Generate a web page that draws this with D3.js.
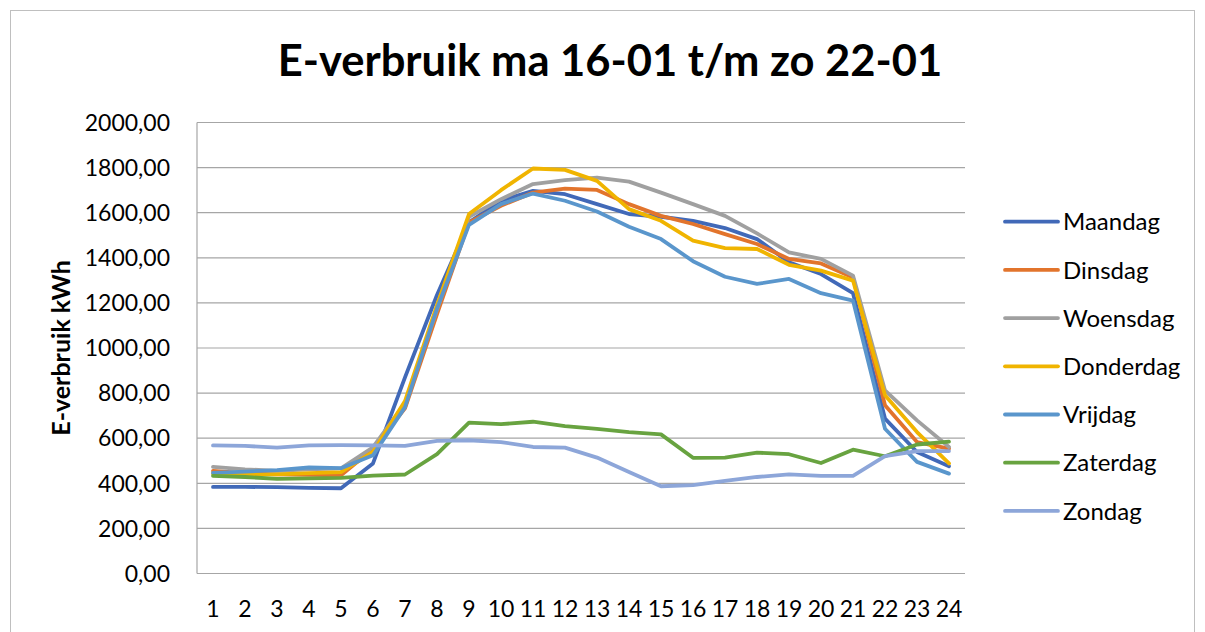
<!DOCTYPE html>
<html>
<head>
<meta charset="utf-8">
<script src="https://cdn.jsdelivr.net/npm/d3@7"></script>
<style>
  html, body { margin: 0; padding: 0; background: #fff; }
  svg { display: block; font-family: Lato, "Open Sans", sans-serif; }
</style>
</head>
<body>
<svg id="chart" width="1205" height="632"></svg>
<script>
// E-verbruik per uur, ma 16-01 t/m zo 22-01

const hours = d3.range(1, 25);
const yTicks = [0, 200, 400, 600, 800, 1000, 1200, 1400, 1600, 1800, 2000];

const days   = ['Maandag', 'Dinsdag', 'Woensdag', 'Donderdag', 'Vrijdag', 'Zaterdag', 'Zondag'];
const colors = ['#4169B8', '#E2742C', '#A0A0A0', '#F0B400', '#5A96CC', '#68A340', '#8DA6D9'];

const maandag   = [384, 384, 383, 380, 378, 488, 870, 1235, 1557, 1653, 1697, 1682, 1638, 1594, 1582, 1564, 1532, 1483, 1380, 1328, 1243, 687, 539, 476];
const dinsdag   = [455, 445, 440, 437, 435, 552, 732, 1150, 1557, 1631, 1689, 1707, 1701, 1638, 1586, 1550, 1505, 1461, 1395, 1375, 1313, 746, 583, 554];
const woensdag  = [473, 462, 455, 462, 466, 560, 755, 1170, 1582, 1660, 1727, 1744, 1756, 1738, 1689, 1638, 1586, 1508, 1424, 1395, 1321, 812, 679, 561];
const donderdag = [443, 438, 440, 445, 450, 539, 765, 1190, 1594, 1700, 1796, 1790, 1741, 1616, 1564, 1476, 1443, 1439, 1369, 1343, 1299, 790, 627, 488];
const vrijdag   = [446, 452, 458, 470, 467, 524, 738, 1175, 1546, 1638, 1685, 1653, 1605, 1538, 1483, 1385, 1316, 1284, 1306, 1243, 1210, 642, 495, 443];
const zaterdag  = [433, 428, 420, 422, 424, 434, 439, 529, 669, 662, 673, 654, 641, 627, 617, 513, 514, 536, 529, 490, 549, 520, 572, 585];
const zondag    = [568, 566, 558, 568, 569, 568, 566, 588, 591, 583, 561, 558, 514, 450, 387, 392, 411, 428, 440, 433, 433, 520, 543, 543];

const series = [maandag, dinsdag, woensdag, donderdag, vrijdag, zaterdag, zondag];

// ── Layout ────────────────────────────────────────────────────────────────────

const W = 1205, H = 632;
const plot = { left: 197, right: 965, top: 122.5, bottom: 573.5 };

const svg = d3.select('#chart');

// outer chart border
svg.append('rect')
  .attr('x', 10.5).attr('y', 10.5)
  .attr('width', W - 21).attr('height', H)
  .attr('fill', '#fff')
  .attr('stroke', '#bfbfbf').attr('stroke-width', 1);

svg.append('text')
  .attr('x', 610).attr('y', 76)
  .attr('text-anchor', 'middle')
  .attr('font-size', 43.5).attr('font-weight', 700)
  .attr('fill', '#000')
  .text('E-verbruik ma 16-01 t/m zo 22-01');

const x = d3.scaleBand().domain(hours).range([plot.left, plot.right]);
const y = d3.scaleLinear().domain([0, 2000]).range([plot.bottom, plot.top]);

// gridlines
svg.append('g')
  .selectAll('line')
  .data(yTicks)
  .enter().append('line')
  .attr('x1', plot.left).attr('x2', plot.right)
  .attr('y1', d => y(d)).attr('y2', d => y(d))
  .attr('stroke', '#a6a6a6').attr('stroke-width', 1.2);

// left axis line
svg.append('line')
  .attr('x1', plot.left).attr('x2', plot.left)
  .attr('y1', plot.top).attr('y2', plot.bottom)
  .attr('stroke', '#a6a6a6').attr('stroke-width', 1.2);

// y tick labels
const fmt = d => d3.format('.2f')(d).replace('.', ',');
svg.append('g')
  .selectAll('text')
  .data(yTicks)
  .enter().append('text')
  .attr('x', 170).attr('y', d => y(d))
  .attr('dy', '0.36em')
  .attr('text-anchor', 'end')
  .attr('font-size', 23).attr('fill', '#000')
  .text(fmt);

// x tick labels
svg.append('g')
  .selectAll('text')
  .data(hours)
  .enter().append('text')
  .attr('x', d => x(d) + x.bandwidth() / 2)
  .attr('y', 617)
  .attr('text-anchor', 'middle')
  .attr('font-size', 23).attr('fill', '#000')
  .text(d => d);

// y axis title
svg.append('text')
  .attr('transform', `translate(70,${(plot.top + plot.bottom) / 2}) rotate(-90)`)
  .attr('text-anchor', 'middle')
  .attr('font-size', 25).attr('font-weight', 700)
  .attr('fill', '#000')
  .text('E-verbruik kWh');

// ── Lines ─────────────────────────────────────────────────────────────────────

const line = d3.line()
  .x((d, i) => x(hours[i]) + x.bandwidth() / 2)
  .y(d => y(d));

svg.append('g')
  .selectAll('path')
  .data(series)
  .enter().append('path')
  .attr('d', line)
  .attr('fill', 'none')
  .attr('stroke', (d, i) => colors[i])
  .attr('stroke-width', 3.8)
  .attr('stroke-linejoin', 'round')
  .attr('stroke-linecap', 'round');

// ── Legend ────────────────────────────────────────────────────────────────────

const leg = svg.append('g');
days.forEach((name, i) => {
  const ly = 221.7 + i * 48.2;
  leg.append('line')
    .attr('x1', 1005).attr('x2', 1058)
    .attr('y1', ly).attr('y2', ly)
    .attr('stroke', colors[i]).attr('stroke-width', 3.8)
    .attr('stroke-linecap', 'round');
  leg.append('text')
    .attr('x', 1063).attr('y', ly)
    .attr('dy', '0.36em')
    .attr('font-size', 24).attr('fill', '#000')
    .text(name);
});
</script>
</body>
</html>
